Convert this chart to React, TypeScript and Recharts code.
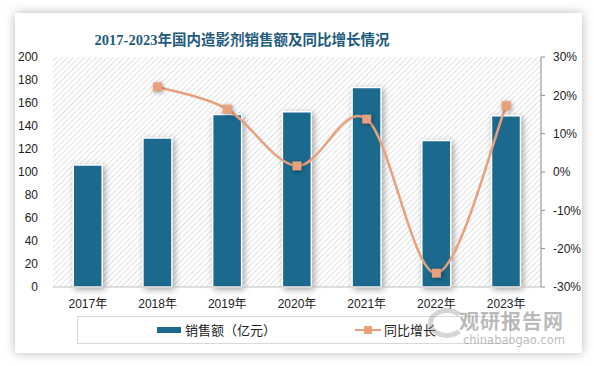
import React from "react";
import {
  ComposedChart,
  Bar,
  Line,
  XAxis,
  YAxis,
  CartesianGrid,
} from "recharts";

const years = ["2017年", "2018年", "2019年", "2020年", "2021年", "2022年", "2023年"];
const sales = [106, 129.5, 150, 152.5, 173.5, 127.5, 149];
const growth = [null, 22.2, 16.4, 1.6, 13.8, -26.4, 17.3];
const leftTicks = [0, 20, 40, 60, 80, 100, 120, 140, 160, 180, 200];
const rightTicks = [-30, -20, -10, 0, 10, 20, 30];

const data = years.map((name, i) => ({ name, sales: sales[i], growth: growth[i] }));

const BLUE = "#1b6a8e";
const ORANGE = "#e9a07d";
const FONT = '"Noto Sans CJK SC", "Noto Sans", sans-serif';
const TICK_FONT = '"Liberation Sans", "Noto Sans CJK SC", sans-serif';

// smooth line like excel's (catmull-rom style bezier)
const smoothCurve = (context: any) => {
  let pts: number[][] = [];
  return {
    areaStart() {},
    areaEnd() {},
    lineStart() {
      pts = [];
    },
    point(x: number, y: number) {
      pts.push([+x, +y]);
    },
    lineEnd() {
      if (!pts.length) return;
      context.moveTo(pts[0][0], pts[0][1]);
      for (let i = 0; i < pts.length - 1; i++) {
        const p0 = pts[i - 1] || pts[i];
        const p1 = pts[i];
        const p2 = pts[i + 1];
        const p3 = pts[i + 2] || p2;
        context.bezierCurveTo(
          p1[0] + (p2[0] - p0[0]) / 6,
          p1[1] + (p2[1] - p0[1]) / 6,
          p2[0] - (p3[0] - p1[0]) / 6,
          p2[1] - (p3[1] - p1[1]) / 6,
          p2[0],
          p2[1]
        );
      }
    },
  };
};

const SquareDot = (props: any) => {
  const { cx, cy, value } = props;
  if (value == null || cx == null || cy == null) return null;
  return (
    <rect
      x={cx - 4.5}
      y={cy - 4.5}
      width={9}
      height={9}
      fill={ORANGE}
      style={{ filter: "drop-shadow(1px 1px 2px rgba(0,0,0,0.4))" }}
    />
  );
};

const ChartLegend = () => (
  <div
    style={{
      position: "absolute",
      left: 77,
      top: 316,
      width: 432,
      height: 26,
      border: "1px solid #d9d9d9",
      fontFamily: FONT,
      fontSize: 13,
      lineHeight: "20px",
      color: "#222",
    }}
  >
    <div style={{ position: "absolute", left: 79, top: 10, width: 24, height: 6, background: BLUE }} />
    <span style={{ position: "absolute", left: 107, top: 3 }}>销售额（亿元）</span>
    <div style={{ position: "absolute", left: 277, top: 12, width: 26, height: 2, background: ORANGE }} />
    <div style={{ position: "absolute", left: 286, top: 9, width: 8, height: 8, background: ORANGE }} />
    <span style={{ position: "absolute", left: 306, top: 3 }}>同比增长</span>
  </div>
);

export default function App() {
  return (
    <div style={{ position: "absolute", left: 0, top: 0, width: 594, height: 366, background: "#fff", overflow: "hidden" }}>
      <div
        style={{
          position: "absolute",
          left: 15,
          top: 13,
          width: 567,
          height: 340,
          background: "#fff",
          boxShadow: "0 0 10px rgba(0,0,0,0.28)",
        }}
      />
      <div
        style={{
          position: "absolute",
          left: 42,
          width: 400,
          top: 28,
          textAlign: "center",
          fontFamily: '"Liberation Serif", "Noto Sans CJK SC", serif',
          fontWeight: "bold",
          fontSize: 14.5,
          color: "#1f5b7c",
        }}
      >
        2017-2023年国内造影剂销售额及同比增长情况
      </div>
      <div style={{ position: "absolute", left: 0, top: 0, fontFamily: TICK_FONT }}>
        <ComposedChart
          width={594}
          height={366}
          data={data}
          margin={{ top: 57, right: 13, left: 13, bottom: 49 }}
          barCategoryGap="29%"
          style={{ fontFamily: TICK_FONT }}
        >
          <defs>
            <pattern id="hatch" width="4" height="4" patternUnits="userSpaceOnUse" patternTransform="rotate(45)">
              <rect width="4" height="4" fill="#ffffff" />
              <line x1="0" y1="0" x2="0" y2="4" stroke="#cfcfcf" strokeWidth="1.2" />
            </pattern>
          </defs>
          <CartesianGrid fill="url(#hatch)" horizontal={false} vertical={false} />
          <XAxis
            dataKey="name"
            height={30}
            tickLine={false}
            axisLine={{ stroke: "#bfbfbf" }}
            tick={{ fill: "#222", fontSize: 12, fontFamily: TICK_FONT }}
            tickMargin={6}
            interval={0}
          />
          <YAxis
            yAxisId="left"
            width={40}
            domain={[0, 200]}
            ticks={leftTicks}
            axisLine={false}
            tickLine={false}
            tickMargin={9}
            tick={{ fill: "#222", fontSize: 12, fontFamily: TICK_FONT }}
          />
          <YAxis
            yAxisId="right"
            orientation="right"
            width={40}
            domain={[-30, 30]}
            ticks={rightTicks}
            axisLine={{ stroke: "#8c8c8c" }}
            tickLine={{ stroke: "#8c8c8c" }}
            tickSize={4}
            tickMargin={8}
            tickFormatter={(v) => `${v}%`}
            tick={{ fill: "#222", fontSize: 12, fontFamily: TICK_FONT }}
          />
          <Bar
            yAxisId="left"
            dataKey="sales"
            fill={BLUE}
            stroke="#ffffff"
            strokeWidth={1.5}
            isAnimationActive={false}
            style={{ filter: "drop-shadow(2px 2px 3px rgba(0,0,0,0.35))" }}
          />
          <Line
            yAxisId="right"
            dataKey="growth"
            type={smoothCurve as any}
            stroke={ORANGE}
            strokeWidth={2.5}
            dot={<SquareDot />}
            activeDot={false}
            connectNulls
            isAnimationActive={false}
          />
        </ComposedChart>
      </div>
      <ChartLegend />
      <div
        style={{
          position: "absolute",
          left: 428,
          top: 308,
          width: 38,
          height: 30,
          borderRadius: "50%",
          border: "5px solid rgba(150,150,150,0.4)",
          borderRightColor: "transparent",
          boxSizing: "border-box",
        }}
      />
      <div
        style={{
          position: "absolute",
          left: 459,
          top: 312,
          fontFamily: '"Liberation Sans", "Noto Sans CJK SC", sans-serif',
          fontWeight: "bold",
          fontSize: 20,
          lineHeight: "20px",
          letterSpacing: 1,
          color: "rgba(140,140,140,0.6)",
        }}
      >
        观研报告网
      </div>
      <div
        style={{
          position: "absolute",
          left: 463,
          top: 334,
          fontFamily: '"DejaVu Sans", sans-serif',
          fontSize: 11.5,
          lineHeight: "12px",
          color: "rgba(140,140,140,0.6)",
        }}
      >
        chinabaogao.com
      </div>
    </div>
  );
}
